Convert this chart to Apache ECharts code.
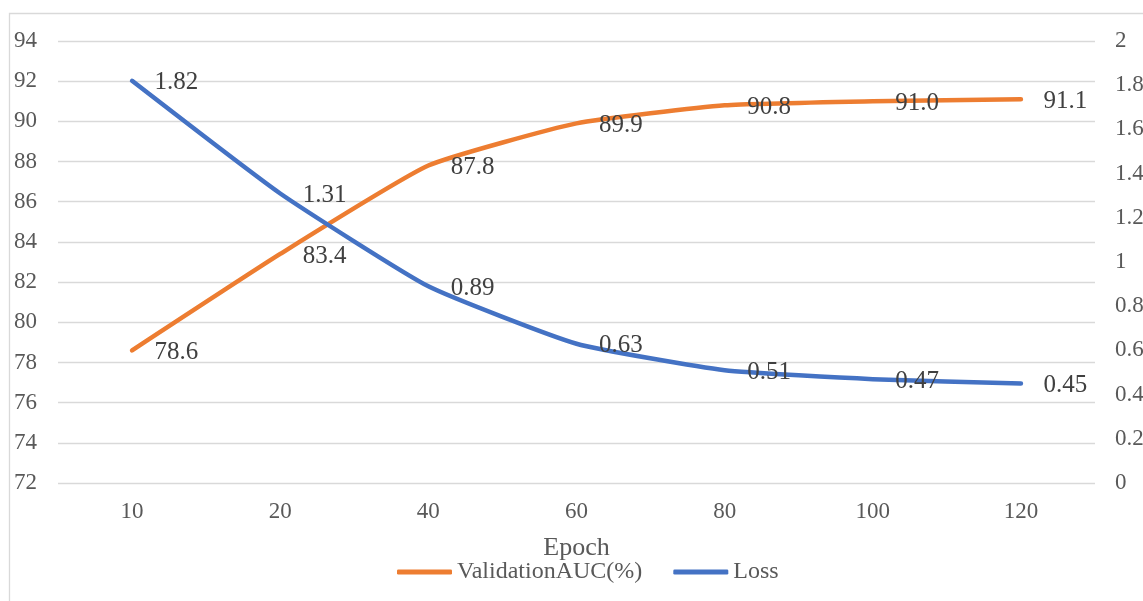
<!DOCTYPE html>
<html>
<head>
<meta charset="utf-8">
<script src="https://cdn.jsdelivr.net/npm/echarts@6/dist/echarts.min.js"></script>
<style>
html,body{margin:0;padding:0;background:#fff;}
#chart{width:1143px;height:601px;}
</style>
</head>
<body>
<div id="chart"></div>
<script>
const categories = ['10', '20', '40', '60', '80', '100', '120'];
const aucValues = [78.6, 83.4, 87.8, 89.9, 90.8, 91.0, 91.1];
const lossValues = [1.82, 1.31, 0.89, 0.63, 0.51, 0.47, 0.45];
const seriesNames = ['ValidationAUC(%)', 'Loss'];
const xAxisName = 'Epoch';

const FONT = '"Liberation Serif", "Times New Roman", serif';
const chart = echarts.init(document.getElementById('chart'));

const labelCfg = (fmt) => ({
  show: true,
  position: 'right',
  distance: 22,
  offset: [0, 2],
  color: '#404040',
  fontFamily: FONT,
  fontSize: 25,
  formatter: fmt
});

chart.setOption({
  animation: false,
  backgroundColor: '#fff',
  textStyle: { fontFamily: FONT },
  graphic: [{
    type: 'rect',
    shape: { x: 9.5, y: 13.5, width: 1300, height: 800 },
    style: { fill: 'none', stroke: '#D9D9D9', lineWidth: 1.3 },
    silent: true,
    z: -10
  }],
  grid: { left: 58, right: 48, top: 41, bottom: 118, containLabel: false, outerBoundsMode: 'none' },
  legend: {
    left: 397,
    top: 560,
    padding: 0,
    itemWidth: 55,
    itemHeight: 5,
    itemGap: 31,
    icon: 'roundRect',
    textStyle: { fontFamily: FONT, fontSize: 24, color: '#595959' },
    data: seriesNames
  },
  xAxis: {
    type: 'category',
    data: categories,
    boundaryGap: true,
    name: xAxisName,
    nameLocation: 'middle',
    nameGap: 52,
    nameTextStyle: { fontFamily: FONT, fontSize: 26, color: '#595959' },
    axisLine: { show: false },
    axisTick: { show: false },
    axisLabel: { fontFamily: FONT, fontSize: 23, color: '#595959', margin: 17 }
  },
  yAxis: [{
    type: 'value',
    min: 72, max: 94, interval: 2,
    axisLine: { show: false },
    axisTick: { show: false },
    axisLabel: { fontFamily: FONT, fontSize: 23, color: '#595959', margin: 21 },
    splitLine: { lineStyle: { color: '#D9D9D9', width: 1.3 } }
  }, {
    type: 'value',
    min: 0, max: 2, interval: 0.2,
    axisLine: { show: false },
    axisTick: { show: false },
    axisLabel: { fontFamily: FONT, fontSize: 23, color: '#595959', margin: 20 },
    splitLine: { show: false }
  }],
  series: [{
    name: seriesNames[0],
    type: 'line',
    yAxisIndex: 0,
    data: aucValues,
    smooth: 0.15,
    symbol: 'circle',
    symbolSize: 1,
    showSymbol: true,
    itemStyle: { color: '#ED7D31' },
    lineStyle: { color: '#ED7D31', width: 4.5, cap: 'round', join: 'round' },
    label: labelCfg(p => p.value.toFixed(1)),
    z: 2
  }, {
    name: seriesNames[1],
    type: 'line',
    yAxisIndex: 1,
    data: lossValues,
    smooth: 0.15,
    symbol: 'circle',
    symbolSize: 1,
    showSymbol: true,
    itemStyle: { color: '#4472C4' },
    lineStyle: { color: '#4472C4', width: 4.5, cap: 'round', join: 'round' },
    label: labelCfg(p => p.value.toFixed(2)),
    z: 3
  }]
});
</script>
</body>
</html>
